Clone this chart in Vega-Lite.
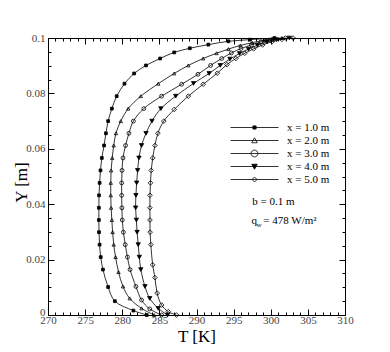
{
  "$schema": "https://vega.github.io/schema/vega-lite/v6.json",
  "autosize": {"type": "none"},
  "width": 297,
  "height": 277,
  "padding": {"left": 48, "top": 38, "right": 45, "bottom": 37},
  "background": "white",
  "config": {
    "view": {"stroke": "black", "strokeWidth": 1},
    "font": "Liberation Serif",
    "axis": {"labelFont": "Liberation Serif", "titleFont": "Liberation Serif", "labelColor": "#444", "titleColor": "black", "titleFontWeight": "normal", "domainColor": "black", "tickColor": "black", "grid": false}
  },
  "datasets": {
    "curves": [
      {"s": "x = 1.0 m", "T": 283.3, "Y": 0},
      {"s": "x = 1.0 m", "T": 281.5, "Y": 0.0016},
      {"s": "x = 1.0 m", "T": 279.0, "Y": 0.005},
      {"s": "x = 1.0 m", "T": 278.1, "Y": 0.0101},
      {"s": "x = 1.0 m", "T": 277.4, "Y": 0.0164},
      {"s": "x = 1.0 m", "T": 277.1, "Y": 0.0209},
      {"s": "x = 1.0 m", "T": 276.95, "Y": 0.0254},
      {"s": "x = 1.0 m", "T": 276.87, "Y": 0.0299},
      {"s": "x = 1.0 m", "T": 276.85, "Y": 0.0343},
      {"s": "x = 1.0 m", "T": 276.85, "Y": 0.0387},
      {"s": "x = 1.0 m", "T": 276.87, "Y": 0.0432},
      {"s": "x = 1.0 m", "T": 276.95, "Y": 0.0477},
      {"s": "x = 1.0 m", "T": 277.07, "Y": 0.0522},
      {"s": "x = 1.0 m", "T": 277.25, "Y": 0.0567},
      {"s": "x = 1.0 m", "T": 277.55, "Y": 0.0612},
      {"s": "x = 1.0 m", "T": 277.8, "Y": 0.0656},
      {"s": "x = 1.0 m", "T": 278.1, "Y": 0.07},
      {"s": "x = 1.0 m", "T": 278.6, "Y": 0.0745},
      {"s": "x = 1.0 m", "T": 279.25, "Y": 0.079},
      {"s": "x = 1.0 m", "T": 280.3, "Y": 0.0835},
      {"s": "x = 1.0 m", "T": 281.6, "Y": 0.0872},
      {"s": "x = 1.0 m", "T": 283.2, "Y": 0.0901},
      {"s": "x = 1.0 m", "T": 285.1, "Y": 0.0926},
      {"s": "x = 1.0 m", "T": 287.0, "Y": 0.0948},
      {"s": "x = 1.0 m", "T": 289.1, "Y": 0.0963},
      {"s": "x = 1.0 m", "T": 291.6, "Y": 0.0976},
      {"s": "x = 1.0 m", "T": 294.3, "Y": 0.0988},
      {"s": "x = 1.0 m", "T": 297.2, "Y": 0.0994},
      {"s": "x = 1.0 m", "T": 300.5, "Y": 0.1},

      {"s": "x = 2.0 m", "T": 284.3, "Y": 0},
      {"s": "x = 2.0 m", "T": 282.6, "Y": 0.0024},
      {"s": "x = 2.0 m", "T": 281.0, "Y": 0.006},
      {"s": "x = 2.0 m", "T": 280.1, "Y": 0.0103},
      {"s": "x = 2.0 m", "T": 279.5, "Y": 0.0155},
      {"s": "x = 2.0 m", "T": 279.1, "Y": 0.0209},
      {"s": "x = 2.0 m", "T": 278.85, "Y": 0.0254},
      {"s": "x = 2.0 m", "T": 278.7, "Y": 0.0299},
      {"s": "x = 2.0 m", "T": 278.6, "Y": 0.0343},
      {"s": "x = 2.0 m", "T": 278.5, "Y": 0.0387},
      {"s": "x = 2.0 m", "T": 278.45, "Y": 0.0432},
      {"s": "x = 2.0 m", "T": 278.45, "Y": 0.0477},
      {"s": "x = 2.0 m", "T": 278.5, "Y": 0.0522},
      {"s": "x = 2.0 m", "T": 278.65, "Y": 0.0567},
      {"s": "x = 2.0 m", "T": 278.85, "Y": 0.0612},
      {"s": "x = 2.0 m", "T": 279.15, "Y": 0.0656},
      {"s": "x = 2.0 m", "T": 279.8, "Y": 0.07},
      {"s": "x = 2.0 m", "T": 280.8, "Y": 0.0745},
      {"s": "x = 2.0 m", "T": 282.5, "Y": 0.079},
      {"s": "x = 2.0 m", "T": 284.85, "Y": 0.0835},
      {"s": "x = 2.0 m", "T": 287.0, "Y": 0.0872},
      {"s": "x = 2.0 m", "T": 288.9, "Y": 0.0901},
      {"s": "x = 2.0 m", "T": 290.9, "Y": 0.0926},
      {"s": "x = 2.0 m", "T": 292.7, "Y": 0.0945},
      {"s": "x = 2.0 m", "T": 294.3, "Y": 0.096},
      {"s": "x = 2.0 m", "T": 295.9, "Y": 0.0973},
      {"s": "x = 2.0 m", "T": 297.5, "Y": 0.0983},
      {"s": "x = 2.0 m", "T": 299.3, "Y": 0.0993},
      {"s": "x = 2.0 m", "T": 301.5, "Y": 0.1},

      {"s": "x = 3.0 m", "T": 285.3, "Y": 0},
      {"s": "x = 3.0 m", "T": 283.7, "Y": 0.0022},
      {"s": "x = 3.0 m", "T": 282.6, "Y": 0.0054},
      {"s": "x = 3.0 m", "T": 281.84, "Y": 0.0103},
      {"s": "x = 3.0 m", "T": 281.05, "Y": 0.0164},
      {"s": "x = 3.0 m", "T": 280.7, "Y": 0.0209},
      {"s": "x = 3.0 m", "T": 280.4, "Y": 0.0254},
      {"s": "x = 3.0 m", "T": 280.15, "Y": 0.0299},
      {"s": "x = 3.0 m", "T": 280.0, "Y": 0.0343},
      {"s": "x = 3.0 m", "T": 279.95, "Y": 0.0387},
      {"s": "x = 3.0 m", "T": 279.92, "Y": 0.0432},
      {"s": "x = 3.0 m", "T": 279.92, "Y": 0.0477},
      {"s": "x = 3.0 m", "T": 279.97, "Y": 0.0522},
      {"s": "x = 3.0 m", "T": 280.1, "Y": 0.0567},
      {"s": "x = 3.0 m", "T": 280.45, "Y": 0.0612},
      {"s": "x = 3.0 m", "T": 280.9, "Y": 0.0656},
      {"s": "x = 3.0 m", "T": 281.5, "Y": 0.07},
      {"s": "x = 3.0 m", "T": 282.9, "Y": 0.0745},
      {"s": "x = 3.0 m", "T": 285.3, "Y": 0.079},
      {"s": "x = 3.0 m", "T": 288.0, "Y": 0.0833},
      {"s": "x = 3.0 m", "T": 290.2, "Y": 0.0869},
      {"s": "x = 3.0 m", "T": 291.9, "Y": 0.0901},
      {"s": "x = 3.0 m", "T": 293.4, "Y": 0.0926},
      {"s": "x = 3.0 m", "T": 294.7, "Y": 0.0946},
      {"s": "x = 3.0 m", "T": 296.0, "Y": 0.0962},
      {"s": "x = 3.0 m", "T": 297.4, "Y": 0.0975},
      {"s": "x = 3.0 m", "T": 298.7, "Y": 0.0986},
      {"s": "x = 3.0 m", "T": 300.2, "Y": 0.0994},
      {"s": "x = 3.0 m", "T": 302.0, "Y": 0.1},

      {"s": "x = 4.0 m", "T": 286.1, "Y": 0},
      {"s": "x = 4.0 m", "T": 284.85, "Y": 0.0024},
      {"s": "x = 4.0 m", "T": 283.7, "Y": 0.006},
      {"s": "x = 4.0 m", "T": 283.06, "Y": 0.0103},
      {"s": "x = 4.0 m", "T": 282.5, "Y": 0.0164},
      {"s": "x = 4.0 m", "T": 282.3, "Y": 0.0209},
      {"s": "x = 4.0 m", "T": 282.15, "Y": 0.0254},
      {"s": "x = 4.0 m", "T": 282.0, "Y": 0.0299},
      {"s": "x = 4.0 m", "T": 281.9, "Y": 0.0343},
      {"s": "x = 4.0 m", "T": 281.8, "Y": 0.0387},
      {"s": "x = 4.0 m", "T": 281.84, "Y": 0.0432},
      {"s": "x = 4.0 m", "T": 281.94, "Y": 0.0477},
      {"s": "x = 4.0 m", "T": 282.07, "Y": 0.0522},
      {"s": "x = 4.0 m", "T": 282.25, "Y": 0.0567},
      {"s": "x = 4.0 m", "T": 282.6, "Y": 0.0612},
      {"s": "x = 4.0 m", "T": 283.2, "Y": 0.0656},
      {"s": "x = 4.0 m", "T": 284.0, "Y": 0.07},
      {"s": "x = 4.0 m", "T": 285.2, "Y": 0.0745},
      {"s": "x = 4.0 m", "T": 287.2, "Y": 0.079},
      {"s": "x = 4.0 m", "T": 289.6, "Y": 0.0836},
      {"s": "x = 4.0 m", "T": 291.7, "Y": 0.0872},
      {"s": "x = 4.0 m", "T": 293.2, "Y": 0.0901},
      {"s": "x = 4.0 m", "T": 294.5, "Y": 0.0924},
      {"s": "x = 4.0 m", "T": 295.8, "Y": 0.0944},
      {"s": "x = 4.0 m", "T": 297.0, "Y": 0.096},
      {"s": "x = 4.0 m", "T": 298.2, "Y": 0.0974},
      {"s": "x = 4.0 m", "T": 299.5, "Y": 0.0986},
      {"s": "x = 4.0 m", "T": 300.8, "Y": 0.0994},
      {"s": "x = 4.0 m", "T": 302.5, "Y": 0.1},

      {"s": "x = 5.0 m", "T": 287.3, "Y": 0},
      {"s": "x = 5.0 m", "T": 286.2, "Y": 0.0012},
      {"s": "x = 5.0 m", "T": 285.3, "Y": 0.0036},
      {"s": "x = 5.0 m", "T": 284.7, "Y": 0.0079},
      {"s": "x = 5.0 m", "T": 284.4, "Y": 0.0135},
      {"s": "x = 5.0 m", "T": 284.1, "Y": 0.0181},
      {"s": "x = 5.0 m", "T": 283.85, "Y": 0.0254},
      {"s": "x = 5.0 m", "T": 283.75, "Y": 0.0299},
      {"s": "x = 5.0 m", "T": 283.73, "Y": 0.0343},
      {"s": "x = 5.0 m", "T": 283.73, "Y": 0.0387},
      {"s": "x = 5.0 m", "T": 283.73, "Y": 0.0432},
      {"s": "x = 5.0 m", "T": 283.8, "Y": 0.0477},
      {"s": "x = 5.0 m", "T": 283.9, "Y": 0.0522},
      {"s": "x = 5.0 m", "T": 284.1, "Y": 0.0567},
      {"s": "x = 5.0 m", "T": 284.4, "Y": 0.0612},
      {"s": "x = 5.0 m", "T": 284.8, "Y": 0.0656},
      {"s": "x = 5.0 m", "T": 285.6, "Y": 0.07},
      {"s": "x = 5.0 m", "T": 287.0, "Y": 0.0742},
      {"s": "x = 5.0 m", "T": 288.9, "Y": 0.079},
      {"s": "x = 5.0 m", "T": 290.9, "Y": 0.0833},
      {"s": "x = 5.0 m", "T": 292.8, "Y": 0.0873},
      {"s": "x = 5.0 m", "T": 294.1, "Y": 0.0904},
      {"s": "x = 5.0 m", "T": 295.3, "Y": 0.0926},
      {"s": "x = 5.0 m", "T": 296.5, "Y": 0.0945},
      {"s": "x = 5.0 m", "T": 297.7, "Y": 0.0961},
      {"s": "x = 5.0 m", "T": 298.9, "Y": 0.0975},
      {"s": "x = 5.0 m", "T": 300.2, "Y": 0.0987},
      {"s": "x = 5.0 m", "T": 301.5, "Y": 0.0995},
      {"s": "x = 5.0 m", "T": 303.0, "Y": 0.1}
    ]
  },
  "data": {"name": "curves"},
  "resolve": {"axis": {"x": "independent", "y": "independent"}, "scale": {"shape": "independent", "fill": "independent"}},
  "layer": [
    {
      "mark": {"type": "line", "interpolate": "catmull-rom", "color": "black", "strokeWidth": 0.8},
      "encoding": {
        "x": {"field": "T", "type": "quantitative", "scale": {"domain": [270, 310], "nice": false, "zero": false},
          "axis": {"orient": "bottom", "title": "T [K]", "titleFontSize": 17, "titlePadding": 3,
            "values": [270,271,272,273,274,275,276,277,278,279,280,281,282,283,284,285,286,287,288,289,290,291,292,293,294,295,296,297,298,299,300,301,302,303,304,305,306,307,308,309,310],
            "labelExpr": "datum.value % 5 === 0 ? datum.label : ''",
            "tickSize": {"condition": {"test": "datum.value % 5 === 0", "value": -6}, "value": -3},
            "labelFontSize": 11, "labelPadding": 5, "labelFlush": false}},
        "y": {"field": "Y", "type": "quantitative", "scale": {"domain": [0, 0.1], "nice": false, "zero": false},
          "axis": {"orient": "left", "title": "Y [m]", "titleFontSize": 17, "titleX": -27, "titleY": 144, "titleBaseline": "middle",
            "values": [0,0.005,0.01,0.015,0.02,0.025,0.03,0.035,0.04,0.045,0.05,0.055,0.06,0.065,0.07,0.075,0.08,0.085,0.09,0.095,0.1],
            "labelExpr": "abs(datum.value*50 - round(datum.value*50)) < 0.000001 ? format(datum.value, '~g') : ''",
            "labelBaseline": {"condition": {"test": "datum.value === 0", "value": "alphabetic"}, "value": "middle"},
            "tickSize": {"condition": {"test": "abs(datum.value*50 - round(datum.value*50)) < 0.000001", "value": -6}, "value": -3},
            "labelFontSize": 11, "labelPadding": 9, "labelFlush": false}},
        "detail": {"field": "s"},
        "order": {"field": "Y", "type": "quantitative"}
      }
    },
    {
      "mark": {"type": "point", "strokeWidth": 0.8, "opacity": 1},
      "encoding": {
        "x": {"field": "T", "type": "quantitative",
          "axis": {"orient": "top", "title": null, "labels": false,
            "values": [270,271,272,273,274,275,276,277,278,279,280,281,282,283,284,285,286,287,288,289,290,291,292,293,294,295,296,297,298,299,300,301,302,303,304,305,306,307,308,309,310],
            "tickSize": {"condition": {"test": "datum.value % 5 === 0", "value": -6}, "value": -3}}},
        "y": {"field": "Y", "type": "quantitative",
          "axis": {"orient": "right", "title": null, "labels": false,
            "values": [0,0.005,0.01,0.015,0.02,0.025,0.03,0.035,0.04,0.045,0.05,0.055,0.06,0.065,0.07,0.075,0.08,0.085,0.09,0.095,0.1],
            "tickSize": {"condition": {"test": "abs(datum.value*50 - round(datum.value*50)) < 0.000001", "value": -6}, "value": -3}}},
        "shape": {"field": "s", "type": "nominal", "legend": null,
          "scale": {"domain": ["x = 1.0 m", "x = 2.0 m", "x = 3.0 m", "x = 4.0 m", "x = 5.0 m"], "range": ["square", "triangle-up", "circle", "triangle-down", "diamond"]}},
        "fill": {"field": "s", "type": "nominal", "legend": null,
          "scale": {"domain": ["x = 1.0 m", "x = 2.0 m", "x = 3.0 m", "x = 4.0 m", "x = 5.0 m"], "range": ["black", "transparent", "transparent", "black", "transparent"]}},
        "stroke": {"value": "black"},
        "size": {"field": "s", "type": "nominal", "legend": null,
          "scale": {"domain": ["x = 1.0 m", "x = 2.0 m", "x = 3.0 m", "x = 4.0 m", "x = 5.0 m"], "range": [8, 22, 45, 22, 18]}}
      }
    },
    {
      "transform": [{"filter": "false"}],
      "mark": {"type": "point", "strokeWidth": 0.8, "opacity": 1},
      "encoding": {
        "shape": {"field": "s", "type": "nominal",
          "scale": {"domain": ["x = 1.0 m", "x = 2.0 m", "x = 3.0 m", "x = 4.0 m", "x = 5.0 m"],
            "range": [
              "M-4.8,0L4.8,0M-0.32,-0.32L0.32,-0.32L0.32,0.32L-0.32,0.32Z",
              "M-4.8,0L4.8,0M0,-0.55L0.55,0.45L-0.55,0.45Z",
              "M-4.8,0L4.8,0M0.68,0A0.68,0.68,0,1,1,-0.68,0A0.68,0.68,0,1,1,0.68,0Z",
              "M-4.8,0L4.8,0M0,0.55L0.55,-0.45L-0.55,-0.45Z",
              "M-4.8,0L4.8,0M0,-0.5L0.5,0L0,0.5L-0.5,0Z"
            ]},
          "legend": {"orient": "none", "legendX": 201, "legendY": 84, "title": null, "symbolSize": 100,
            "symbolStrokeColor": "black", "symbolStrokeWidth": 0.8, "symbolOpacity": 1, "labelFont": "Liberation Serif", "labelFontSize": 11,
            "labelColor": "black", "labelOffset": 27, "rowPadding": 1,
            "encode": {"symbols": {"update": {"stroke": {"value": "black"}, "strokeWidth": {"value": 0.8}, "opacity": {"value": 1}}}}}},
        "fill": {"field": "s", "type": "nominal",
          "scale": {"domain": ["x = 1.0 m", "x = 2.0 m", "x = 3.0 m", "x = 4.0 m", "x = 5.0 m"], "range": ["black", "transparent", "transparent", "black", "transparent"]},
          "legend": {"orient": "none", "legendX": 201, "legendY": 84, "title": null, "symbolSize": 100,
            "symbolStrokeColor": "black", "symbolStrokeWidth": 0.8, "symbolOpacity": 1, "labelFont": "Liberation Serif", "labelFontSize": 11,
            "labelColor": "black", "labelOffset": 27, "rowPadding": 1,
            "encode": {"symbols": {"update": {"stroke": {"value": "black"}, "strokeWidth": {"value": 0.8}, "opacity": {"value": 1}}}}}}
      }
    },
    {
      "data": {"values": [{}]},
      "mark": {"type": "text", "text": "b = 0.1 m", "align": "left", "baseline": "middle", "fontSize": 11, "font": "Liberation Serif", "color": "black"},
      "encoding": {"x": {"datum": 297.5, "axis": null}, "y": {"datum": 0.0409, "axis": null}}
    },
    {
      "data": {"values": [{}]},
      "mark": {"type": "text", "text": "q", "align": "left", "baseline": "middle", "fontSize": 11, "font": "Liberation Serif", "color": "black"},
      "encoding": {"x": {"datum": 297.4, "axis": null}, "y": {"datum": 0.0341, "axis": null}}
    },
    {
      "data": {"values": [{}]},
      "mark": {"type": "text", "text": "w", "align": "left", "baseline": "middle", "fontSize": 7, "dy": 4, "dx": 5, "font": "Liberation Serif", "color": "black"},
      "encoding": {"x": {"datum": 297.4, "axis": null}, "y": {"datum": 0.0341, "axis": null}}
    },
    {
      "data": {"values": [{}]},
      "mark": {"type": "text", "text": "= 478 W/m²", "align": "left", "baseline": "middle", "fontSize": 11, "font": "Liberation Serif", "color": "black"},
      "encoding": {"x": {"datum": 299.0, "axis": null}, "y": {"datum": 0.0341, "axis": null}}
    }
  ]
}
